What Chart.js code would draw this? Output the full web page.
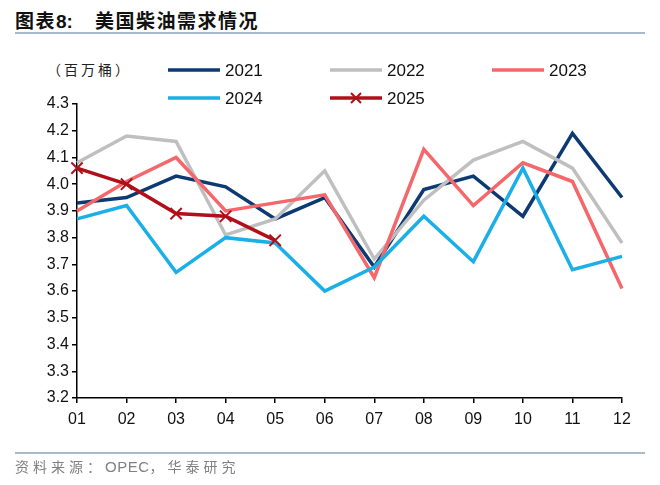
<!DOCTYPE html>
<html>
<head>
<meta charset="utf-8">
<script src="https://cdn.jsdelivr.net/npm/chart.js@4.4.0/dist/chart.umd.min.js"></script>
<style>
  html, body { margin: 0; padding: 0; background: #fff; }
  #wrap { position: relative; width: 660px; height: 485px; overflow: hidden; }
  #title { position: absolute; left: 15px; top: 6px; font: bold 19px "Noto Sans CJK SC", sans-serif; color: #111; letter-spacing: 1.5px; white-space: nowrap; }
  #title .num { font-family: "Liberation Sans", Arial, sans-serif; letter-spacing: 0; margin-right: 22px; }
  .rule { position: absolute; left: 15px; width: 630px; height: 2px; background: #A9BACB; }
  #unit { position: absolute; left: 47px; top: 59px; font: 14px "Noto Sans CJK SC", sans-serif; letter-spacing: 3px; color: #222; }
  #source { position: absolute; left: 15px; top: 456px; font: 14px "Noto Sans CJK SC", sans-serif; color: #808080; letter-spacing: 4px; white-space: nowrap; }
  #source .lat { font-family: "Liberation Sans", Arial, sans-serif; font-size: 15px; letter-spacing: 0.5px; }
  canvas { position: absolute; left: 0; top: 0; }
</style>
</head>
<body>
<div id="wrap">
  <div id="title">图表<span class="num">8:</span>美国柴油需求情况</div>
  <div class="rule" style="top:32px"></div>
  <div id="unit">（百万桶）</div>
  <canvas id="dieselChart" width="660" height="485"></canvas>
  <div class="rule" style="top:452px"></div>
  <div id="source">资料来源：<span class="lat">OPEC</span>，华泰研究</div>
</div>
<script>
// Month labels on the x axis
const months = ["01", "02", "03", "04", "05", "06", "07", "08", "09", "10", "11", "12"];

// US diesel demand, million barrels per day
const y2021 = [3.93, 3.95, 4.03, 3.99, 3.87, 3.95, 3.69, 3.98, 4.03, 3.88, 4.19, 3.95];
const y2022 = [4.08, 4.18, 4.16, 3.81, 3.87, 4.05, 3.72, 3.94, 4.09, 4.16, 4.06, 3.78];
const y2023 = [3.90, 4.01, 4.10, 3.90, 3.93, 3.96, 3.65, 4.13, 3.92, 4.08, 4.01, 3.61];
const y2024 = [3.87, 3.92, 3.67, 3.80, 3.78, 3.60, 3.69, 3.88, 3.71, 4.06, 3.68, 3.73];
const y2025 = [4.06, 4.00, 3.89, 3.88, 3.79];

const yMin = 3.2, yMax = 4.3, yStep = 0.1;

// Custom legend: two rows laid out like the source report
const legendSlots = [
  { x: 168, y: 70 }, { x: 330, y: 70 }, { x: 492, y: 70 },
  { x: 168, y: 98 }, { x: 330, y: 98 }
];

const legendPlugin = {
  id: "slotLegend",
  afterDraw(chart) {
    const ctx = chart.ctx;
    ctx.save();
    chart.data.datasets.forEach((ds, i) => {
      const s = legendSlots[i];
      if (!s) return;
      ctx.strokeStyle = ds.borderColor;
      ctx.lineWidth = 3.5;
      ctx.beginPath();
      ctx.moveTo(s.x, s.y);
      ctx.lineTo(s.x + 52, s.y);
      ctx.stroke();
      if (ds.pointStyle === "crossRot") {
        const cx = s.x + 26, r = 5;
        ctx.lineWidth = 2;
        ctx.beginPath();
        ctx.moveTo(cx - r, s.y - r); ctx.lineTo(cx + r, s.y + r);
        ctx.moveTo(cx - r, s.y + r); ctx.lineTo(cx + r, s.y - r);
        ctx.stroke();
      }
      ctx.fillStyle = "#111";
      ctx.font = '17px "Liberation Sans", Arial, sans-serif';
      ctx.textBaseline = "middle";
      ctx.fillText(ds.label, s.x + 57, s.y + 1);
    });
    ctx.restore();
  }
};

function series(label, data, color, order) {
  return {
    label, data, order,
    borderColor: color,
    backgroundColor: color,
    borderWidth: 3.5,
    pointRadius: 0,
    tension: 0,
    fill: false
  };
}

document.addEventListener("DOMContentLoaded", () => {
  const ctx = document.getElementById("dieselChart").getContext("2d");
  const s2025 = series("2025", y2025, "#B0101A", 0);
  s2025.pointStyle = "crossRot";
  s2025.pointRadius = 8;
  s2025.pointBorderWidth = 2;

  new Chart(ctx, {
    type: "line",
    data: {
      labels: months,
      datasets: [
        series("2021", y2021, "#0E3A74", 4),
        series("2022", y2022, "#BFBFBF", 3),
        series("2023", y2023, "#F4676B", 2),
        series("2024", y2024, "#1AAFE6", 1),
        s2025
      ]
    },
    options: {
      responsive: false,
      animation: false,
      layout: { padding: { left: 0, right: 38, top: 104, bottom: 52 } },
      plugins: {
        legend: { display: false },
        tooltip: { enabled: false }
      },
      scales: {
        x: {
          offset: false,
          grid: { drawOnChartArea: false, drawTicks: true, tickLength: 5, color: "#000", lineWidth: 1.5 },
          border: { color: "#000", width: 1.5 },
          ticks: { color: "#111", font: { family: '"Liberation Sans", Arial, sans-serif', size: 16 }, padding: 7, maxRotation: 0, autoSkip: false },
          afterFit(scale) { scale.height = 35; }
        },
        y: {
          min: yMin, max: yMax,
          grid: { drawOnChartArea: false, drawTicks: true, tickLength: 5, color: "#000", lineWidth: 1.5 },
          border: { color: "#000", width: 1.5 },
          ticks: {
            stepSize: yStep,
            color: "#111",
            font: { family: '"Liberation Sans", Arial, sans-serif', size: 16 },
            padding: 3,
            callback: (v) => Number(v).toFixed(1)
          },
          afterFit(scale) { scale.width = 77; }
        }
      }
    },
    plugins: [legendPlugin]
  });
});
</script>
</body>
</html>
